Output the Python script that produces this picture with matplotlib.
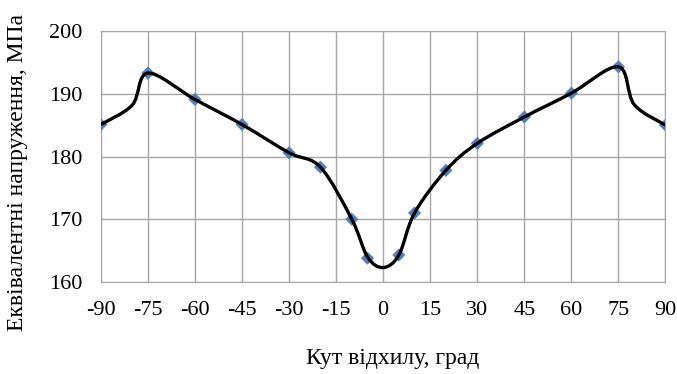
import matplotlib.pyplot as plt
import numpy as np
from matplotlib.path import Path
from matplotlib.patches import PathPatch

plt.rcParams['font.family'] = ['Liberation Serif', 'DejaVu Serif']
plt.rcParams['axes.unicode_minus'] = False

# calculated points (markers)
angle = [-90, -75, -60, -45, -30, -20, -10, -5, 5, 10, 20, 30, 45, 60, 75, 90]
stress = [185.1, 193.3, 189.1, 185.1, 180.6, 178.3, 170.0, 163.8,
          164.3, 171.0, 177.8, 182.1, 186.3, 190.1, 194.3, 185.0]

# smoothed trend line nodes
line_angle = [-90, -80, -75, -60, -45, -30, -20, -10, -5, 0, 5, 10,
              20, 30, 45, 60, 75, 80, 90]
line_stress = [185.1, 188.2, 193.3, 189.1, 185.1, 180.6, 178.3, 170.0, 164.0,
               162.3, 164.3, 171.0, 177.8, 182.1, 186.3, 190.1, 194.3, 188.3, 185.0]


def smooth_path(x, y, f=1 / 6):
    """Catmull-Rom style bezier path through the nodes"""
    pts = np.column_stack([x, y]).astype(float)
    n = len(pts)
    verts = [pts[0]]
    codes = [Path.MOVETO]
    for i in range(n - 1):
        p0 = pts[max(i - 1, 0)]
        p1 = pts[i]
        p2 = pts[i + 1]
        p3 = pts[min(i + 2, n - 1)]
        c1 = p1 + (p2 - p0) * f
        c2 = p2 - (p3 - p1) * f
        verts += [c1, c2, p2]
        codes += [Path.CURVE4] * 3
    return Path(verts, codes)


fig = plt.figure(figsize=(6.77, 3.74), dpi=100)
ax = fig.add_axes([0.149, 0.246, 0.834, 0.671])

ax.scatter(angle, stress, marker='D', s=45, color='#4f81bd', zorder=3,
           edgecolors='none')
ax.add_patch(PathPatch(smooth_path(line_angle, line_stress), facecolor='none',
                       edgecolor='black', lw=2.4, zorder=4))

ax.set_xlim(-90, 90)
ax.set_ylim(160, 200)
ax.set_xticks(np.arange(-90, 91, 15))
ax.set_yticks(np.arange(160, 201, 10))
ax.grid(True, color='#a6a6a6', lw=1.0)
ax.set_axisbelow(True)
for sp in ax.spines.values():
    sp.set_color('#a6a6a6')
ax.tick_params(labelsize=16, length=0)
ax.tick_params(axis='x', pad=14)
ax.tick_params(axis='y', pad=13)

ax.set_xlabel('Кут відхилу, град', fontsize=17)
ax.set_ylabel('Еквівалентні напруження, МПа', fontsize=17)
ax.xaxis.set_label_coords(0.517, -0.263)
ax.yaxis.set_label_coords(-0.129, 0.438)

plt.savefig('out.png', dpi=100)
